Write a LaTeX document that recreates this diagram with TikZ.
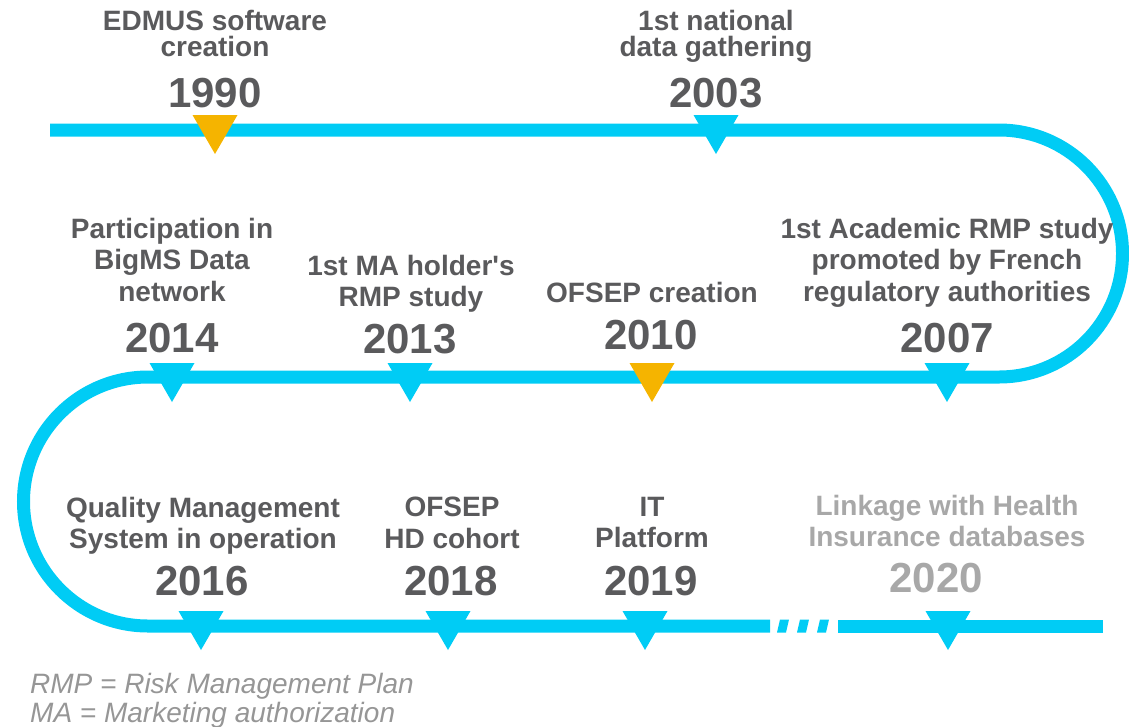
\documentclass[tikz,border=0pt]{standalone}
\usepackage{fontspec}
\setmainfont{Liberation Sans}
\definecolor{myblue}{RGB}{0,204,245}
\definecolor{myorange}{RGB}{245,180,0}
\definecolor{mygray}{RGB}{90,90,92}
\definecolor{mylight}{RGB}{168,168,168}
\definecolor{mylegend}{RGB}{150,150,150}

\begin{document}
\begin{tikzpicture}[x=1pt,y=-1pt,
every node/.style={mygray,inner sep=0pt,align=center,
  font=\bfseries\fontsize{28}{31.5}\selectfont},
event/.style={anchor=north},
year/.style={anchor=base,font=\bfseries\fontsize{42}{46}\selectfont},
legend/.style={anchor=base west,mylegend,font=\itshape\fontsize{28}{29}\selectfont},
track/.style={myblue,line width=13pt}]
\useasboundingbox (0,0) rectangle (1129,726);
% the winding time line
\draw[track] (50,130) -- (999,130) arc(-90:90:123.5) -- (148,377)
  arc(-90:-270:124.5) -- (770,626);
\draw[track] (838,626) -- (1103,626);
\foreach \d in {777,797,817}
  \fill[myblue] (\d+3,619.5) -- (\d+12,619.5) -- (\d+9,632.5) -- (\d,632.5) -- cycle;
% markers
\foreach \x/\y/\c in {215/130/myorange,716/130/myblue,
  172/378/myblue,410/378/myblue,652/378/myorange,947/378/myblue,
  201/626/myblue,448/626/myblue,645/626/myblue,948/626/myblue}
  \fill[\c] (\x-22.5,\y-15) -- (\x+22.5,\y-15) -- (\x,\y+24) -- cycle;
% events
\node[event] (edmus) at (215,10) {EDMUS software\\[-5pt]creation};
\node[year] (y1990) at (215,107) {1990};
\node[event] (gather) at (716,10) {1st national\\[-5pt]data gathering};
\node[year] (y2003) at (716,107) {2003};
\node[event] (academic) at (947,218) {1st Academic RMP study\\promoted by French\\regulatory authorities};
\node[year] (y2007) at (947,352) {2007};
\node[event] (ofsep) at (652,282) {OFSEP creation};
\node[year] (y2010) at (651,349) {2010};
\node[event] (holder) at (411,255) {1st MA holder\textquotesingle s\\RMP study};
\node[year] (y2013) at (410,353) {2013};
\node[event] (bigms) at (172,218) {Participation in\\BigMS Data\\network};
\node[year] (y2014) at (172,352) {2014};
\node[event] (quality) at (203,497) {Quality Management\\System in operation};
\node[year] (y2016) at (202,595) {2016};
\node[event] (cohort) at (452,497) {OFSEP\\HD cohort};
\node[year] (y2018) at (451,595) {2018};
\node[event] (platform) at (652,497) {IT\\Platform};
\node[year] (y2019) at (651,595) {2019};
\node[event,mylight] (linkage) at (947,495) {Linkage with Health\\Insurance databases};
\node[year,mylight] (y2020) at (936,592) {2020};
% legend
\node[legend] (rmp) at (30,693) {RMP = Risk Management Plan};
\node[legend] (ma) at (30,722) {MA = Marketing authorization};
\end{tikzpicture}
\end{document}
